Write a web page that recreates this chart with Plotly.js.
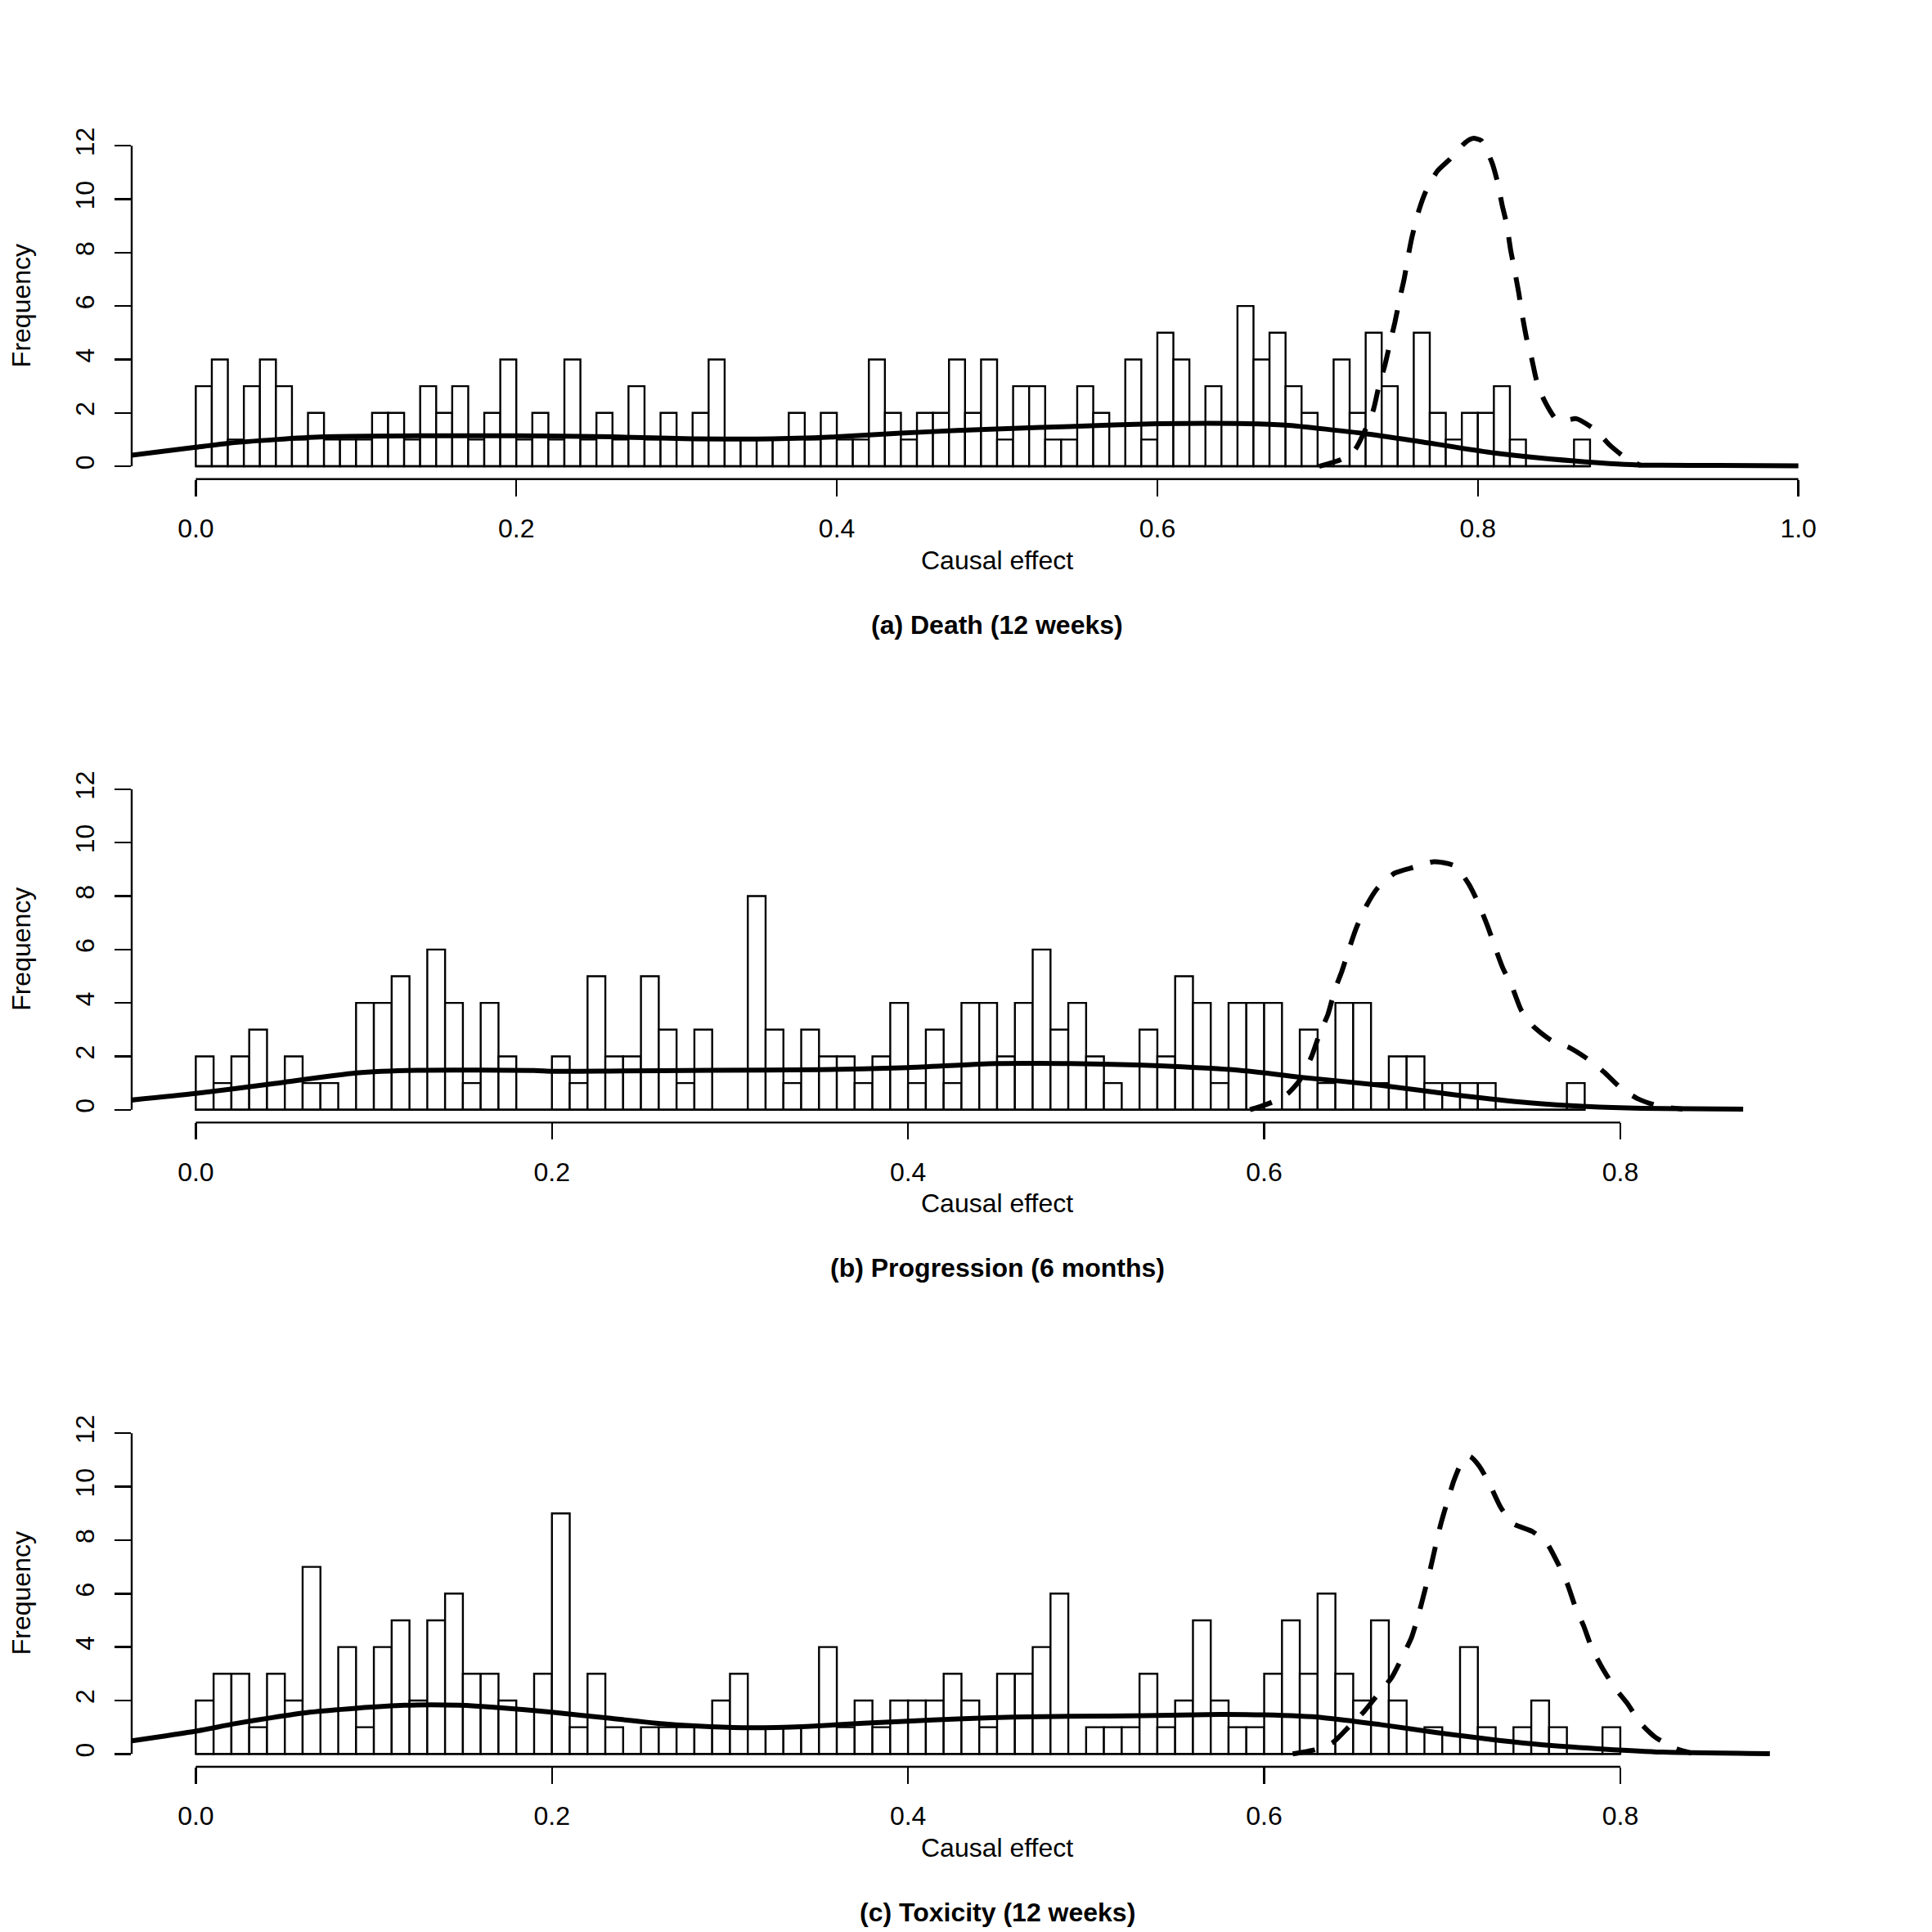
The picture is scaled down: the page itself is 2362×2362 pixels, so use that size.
<!DOCTYPE html>
<html><head><meta charset="utf-8">
<script src="https://cdn.plot.ly/plotly-3.0.1.min.js"></script>
<style>html,body{margin:0;padding:0;background:#fff}</style>
</head><body><div id="chart" style="width:2362px;height:2362px"></div>
<script>
// ---------------- DATA ----------------
const binWidth = 0.01;
const binStart = 0;

const countsDeath = [3,4,1,3,4,3,1,2,1,1, 1,2,2,1,3,2,3,1,2,4, 1,2,1,4,1,2,1,3,1,2,
  1,2,4,1,1,1,1,2,1,2, 1,1,4,2,1,2,2,4,2,4, 1,3,3,1,1,3,2,0,4,1, 5,4,0,3,0,6,4,5,3,2,
  0,4,2,5,3,1,5,2,1,2, 2,3,1,0,0,0,1];
const countsProg = [2,1,2,3,1,2,1,1,0,4, 4,5,0,6,4,1,4,2,0,0, 2,1,5,2,2,5,3,1,3,0,
  0,8,3,1,3,2,2,1,2,4, 1,3,1,4,4,2,4,6,3,4, 2,1,0,3,2,5,4,1,4,4, 4,0,3,1,4,4,1,2,2,1,
  1,1,1,0,0,0,0,1];
const countsTox = [2,3,3,1,3,2,7,0,4,1, 4,5,2,5,6,3,3,2,0,3, 9,1,3,1,0,1,1,1,1,2,
  3,1,1,1,1,4,1,2,1,2, 2,2,3,2,1,3,3,4,6,0, 1,1,1,3,1,2,5,2,1,1, 3,5,3,6,3,2,5,2,0,1,
  0,4,1,0,1,2,1,0,0,1];

const densDeathX = [-0.04,0,0.02,0.05,0.08,0.14,0.2,0.26,0.31,0.35,0.37,0.4,0.44,0.475,0.51,0.545,0.6,0.65,0.68,0.73,0.76,0.81,0.86,0.9,0.95,1.0];
const densDeathY = [0.41,0.71,0.86,1.0,1.1,1.14,1.14,1.1,1.03,1.02,1.04,1.1,1.24,1.34,1.42,1.49,1.59,1.6,1.54,1.22,0.96,0.5,0.2,0.05,0.03,0.02];
const postDeathX = [0.701,0.7145,0.7232,0.7302,0.7349,0.7384,0.7419,0.7454,0.7482,0.7513,0.7539,0.7567,0.759,0.763,0.7672,0.7747,0.7824,0.7923,0.797,0.8021,0.8087,0.8122,0.8152,0.818,0.8204,0.8227,0.8255,0.8274,0.8304,0.8335,0.8368,0.8415,0.849,0.855,0.8614,0.8738,0.882,0.8925,0.902];
const postDeathY = [0,0.25,0.61,1.42,2.13,3.05,3.76,4.67,5.38,6.29,6.98,7.92,8.61,9.54,10.25,11.05,11.49,12.13,12.28,12.2,11.39,10.66,9.77,9.06,8.12,7.41,6.5,5.77,4.79,4.06,3.17,2.46,1.75,1.72,1.78,1.34,0.81,0.3,0.02];

const densProgX = [-0.0365,0,0.043,0.09,0.127,0.19,0.2,0.233,0.289,0.35,0.4,0.449,0.491,0.529,0.554,0.586,0.61,0.62,0.665,0.707,0.749,0.781,0.812,0.869];
const densProgY = [0.36,0.61,0.97,1.38,1.48,1.47,1.44,1.45,1.48,1.5,1.58,1.73,1.73,1.68,1.61,1.48,1.3,1.22,0.92,0.56,0.26,0.12,0.05,0.02];
const postProgX = [0.592,0.597,0.605,0.6133,0.6196,0.6266,0.6312,0.6358,0.6396,0.6437,0.6479,0.6518,0.6575,0.6639,0.6733,0.6839,0.6955,0.7071,0.7149,0.7201,0.7254,0.7292,0.734,0.7393,0.7444,0.7513,0.7612,0.7713,0.7819,0.7909,0.8002,0.8099,0.8209,0.835];
const postProgY = [0,0.1,0.3,0.61,1.07,1.99,2.86,3.57,4.47,5.2,6.07,6.82,7.65,8.32,8.86,9.08,9.29,9.13,8.45,7.76,6.89,6.17,5.31,4.59,3.72,3.11,2.6,2.33,1.89,1.41,0.82,0.41,0.15,0.02];

const densToxX = [-0.0358,0,0.0217,0.043,0.064,0.09,0.117,0.148,0.169,0.2,0.232,0.264,0.289,0.312,0.343,0.375,0.4,0.428,0.459,0.491,0.533,0.575,0.6,0.633,0.665,0.697,0.728,0.76,0.791,0.823,0.884];
const densToxY = [0.49,0.85,1.13,1.36,1.56,1.71,1.82,1.82,1.74,1.56,1.34,1.12,1.02,0.98,1.03,1.15,1.23,1.31,1.38,1.41,1.43,1.48,1.46,1.36,1.1,0.8,0.54,0.32,0.18,0.07,0.01];
const postToxX = [0.616,0.628,0.6386,0.648,0.656,0.6645,0.6717,0.678,0.6828,0.6871,0.6898,0.6934,0.6959,0.6991,0.7024,0.7067,0.7113,0.7155,0.7208,0.7267,0.7328,0.7397,0.7507,0.7587,0.7654,0.7703,0.7749,0.7793,0.7842,0.7897,0.7966,0.8036,0.8114,0.8198,0.831,0.84];
const postToxY = [0,0.15,0.43,1.05,1.58,2.28,2.87,3.69,4.37,5.32,6.0,6.95,7.68,8.58,9.34,10.26,10.95,11.13,10.77,10.08,9.23,8.62,8.32,7.89,7.07,6.36,5.47,4.81,3.93,3.24,2.5,1.92,1.15,0.62,0.21,0.03];

const xTickValsA = [0,0.2,0.4,0.6,0.8,1.0];
const xTickTextA = ['0.0','0.2','0.4','0.6','0.8','1.0'];
const xTickValsB = [0,0.2,0.4,0.6,0.8];
const xTickTextB = ['0.0','0.2','0.4','0.6','0.8'];
const yTickVals = [0,2,4,6,8,10,12];
const yTickText = ['0','2','4','6','8','10','12'];

const panelTitles = ['(a) Death (12 weeks)','(b) Progression (6 months)','(c) Toxicity (12 weeks)'];
const xTitle = 'Causal effect';
const yTitle = 'Frequency';

// ---------------- LAYOUT CONSTANTS ----------------
const W = 2362, H = 2362;
const plotLeft = 161, plotRight = 2277;
const panelPx = [[162.6,585.7],[949.3,1372.4],[1736.6,2160]];
const xRanges = [[-0.04,1.04],[-0.036,0.936],[-0.036,0.936]];
const yRange = [-0.48,12.48];
const FONT = 'Liberation Sans, Arial, Helvetica, sans-serif';

const panels = [
  {counts: countsDeath, dx: densDeathX, dy: densDeathY, px: postDeathX, py: postDeathY, tv: xTickValsA, tt: xTickTextA},
  {counts: countsProg, dx: densProgX, dy: densProgY, px: postProgX, py: postProgY, tv: xTickValsB, tt: xTickTextB},
  {counts: countsTox, dx: densToxX, dy: densToxY, px: postToxX, py: postToxY, tv: xTickValsB, tt: xTickTextB}
];

const traces = [];
const layout = {
  width: W, height: H, margin: {l:0,r:0,t:0,b:0},
  paper_bgcolor: '#fff', plot_bgcolor: '#fff',
  showlegend: false, hovermode: false,
  font: {family: FONT, size: 32, color: '#000'},
  shapes: [], annotations: []
};

panels.forEach((p, i) => {
  const s = i === 0 ? '' : String(i + 1);
  const xa = 'x' + s, ya = 'y' + s;
  const centers = p.counts.map((c, k) => binStart + (k + 0.5) * binWidth);
  traces.push({
    type: 'bar', x: centers, y: p.counts, width: binWidth,
    xaxis: xa, yaxis: ya,
    marker: {color: '#fff', line: {color: '#000', width: 2.4}}
  });
  const binEnd = binStart + p.counts.length * binWidth;
  traces.push({
    type: 'scatter', mode: 'lines', x: [binStart, binEnd], y: [0, 0],
    xaxis: xa, yaxis: ya, line: {color: '#000', width: 2.4}
  });
  traces.push({
    type: 'scatter', mode: 'lines', x: p.dx, y: p.dy,
    xaxis: xa, yaxis: ya,
    line: {color: '#000', width: 6, shape: 'spline', smoothing: 0.6}
  });
  traces.push({
    type: 'scatter', mode: 'lines', x: p.px, y: p.py,
    xaxis: xa, yaxis: ya,
    line: {color: '#000', width: 6, dash: '28px,22px', shape: 'spline', smoothing: 0.6}
  });

  const top = panelPx[i][0], bot = panelPx[i][1];
  layout['xaxis' + s] = {
    domain: [plotLeft / W, plotRight / W], range: xRanges[i], anchor: ya,
    tickvals: p.tv, ticktext: p.tt, ticks: 'outside', ticklen: 20, tickwidth: 2.4, tickcolor: '#000',
    ticklabelstandoff: 12,
    showgrid: false, zeroline: false, showline: false, fixedrange: true,
    tickfont: {family: FONT, size: 32, color: '#000'}
  };
  layout['yaxis' + s] = {
    domain: [1 - bot / H, 1 - top / H], range: yRange, anchor: xa,
    tickvals: yTickVals, ticktext: yTickText, ticks: 'outside', ticklen: 20, tickwidth: 2.4, tickcolor: '#000',
    tickangle: -90, ticklabelstandoff: 12,
    showgrid: false, zeroline: false, showline: false, fixedrange: true,
    tickfont: {family: FONT, size: 32, color: '#000'}
  };
  // R-style axis lines spanning only first to last tick
  layout.shapes.push({type: 'line', xref: xa, yref: ya + ' domain',
    x0: p.tv[0], x1: p.tv[p.tv.length - 1], y0: 0, y1: 0, line: {color: '#000', width: 2.4}});
  layout.shapes.push({type: 'line', xref: xa + ' domain', yref: ya,
    x0: 0, x1: 0, y0: yTickVals[0], y1: yTickVals[yTickVals.length - 1], line: {color: '#000', width: 2.4}});

  layout.annotations.push({text: xTitle, xref: 'paper', yref: 'paper',
    x: (plotLeft + plotRight) / 2 / W, y: 1 - (bot + 99) / H, xanchor: 'center', yanchor: 'middle',
    showarrow: false, font: {family: FONT, size: 32, color: '#000'}});
  layout.annotations.push({text: '<b>' + panelTitles[i] + '</b>', xref: 'paper', yref: 'paper',
    x: (plotLeft + plotRight) / 2 / W, y: 1 - (bot + 178) / H, xanchor: 'center', yanchor: 'middle',
    showarrow: false, font: {family: FONT, size: 32, color: '#000'}});
  layout.annotations.push({text: yTitle, xref: 'paper', yref: 'paper', textangle: -90,
    x: 26 / W, y: 1 - (top + bot) / 2 / H, xanchor: 'center', yanchor: 'middle',
    showarrow: false, font: {family: FONT, size: 32, color: '#000'}});
});

Plotly.newPlot('chart', traces, layout, {staticPlot: true, displayModeBar: false});
</script></body></html>
